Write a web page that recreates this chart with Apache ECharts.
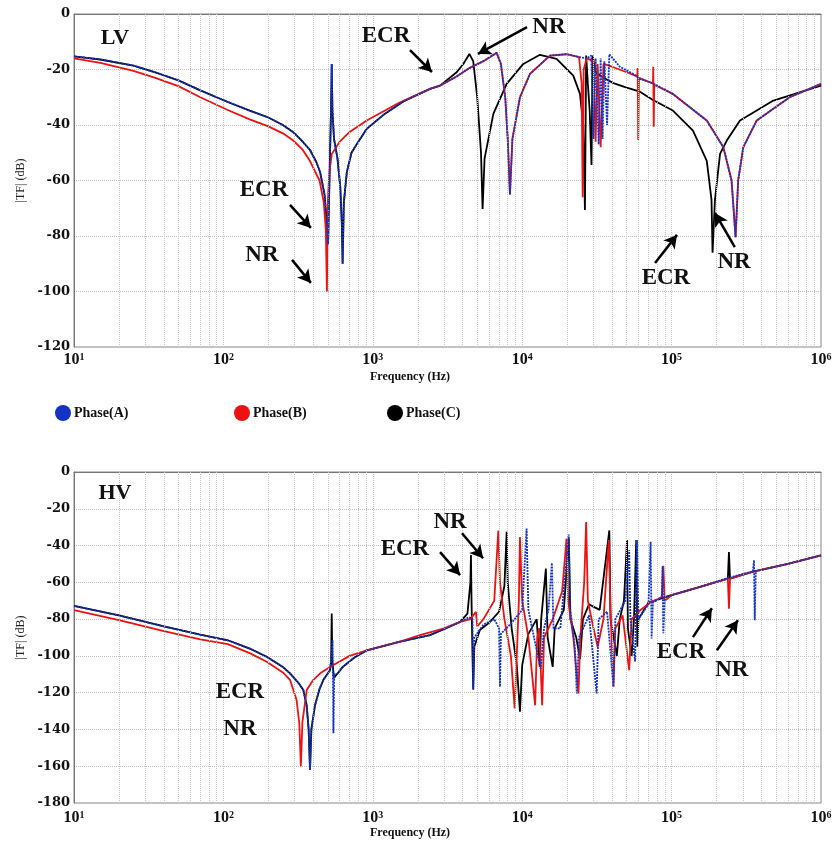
<!DOCTYPE html>
<html><head><meta charset="utf-8">
<script src="https://cdn.jsdelivr.net/npm/echarts@6/dist/echarts.min.js"></script>
<style>html,body{margin:0;padding:0;background:#fff}#c{width:837px;height:843px}</style>
</head><body><div id="c"></div>
<script>
// ---------------- DATA ----------------
const xTicks = [10, 100, 1000, 10000, 100000, 1000000];
const yTicksLV = [0, -20, -40, -60, -80, -100, -120];
const yTicksHV = [0, -20, -40, -60, -80, -100, -120, -140, -160, -180];
const minorFreqs = [20,30,40,50,60,70,80,90,200,300,400,500,600,700,800,900,2000,3000,4000,5000,6000,7000,8000,9000,20000,30000,40000,50000,60000,70000,80000,90000,200000,300000,400000,500000,600000,700000,800000,900000];
const seriesNames = ['Phase(A)', 'Phase(B)', 'Phase(C)'];

// LV winding, Phase C (black)
const LV_C = [[10,-15.3],[15,-16.4],[25,-18.6],[35,-21],[50,-23.9],[70,-27.5],[107,-31.7],[150,-34.8],[200,-37.3],[250,-40],[292,-42.5],[330,-45.3],[380,-49],[420,-53.5],[444,-57],[475,-65],[492,-75],[502,-83],[515,-55],[525,-35],[531,-18],[537,-35],[550,-45],[580,-52],[605,-62],[620,-75],[628,-90],[640,-68],[670,-57],[720,-50],[800,-46],[910,-41.4],[1200,-36],[1600,-31.5],[2415,-27],[2820,-25.8],[3640,-21],[4035,-18],[4430,-14.4],[4700,-17],[5000,-30],[5300,-50],[5430,-70.3],[5600,-52],[6410,-36],[7870,-25.2],[10170,-18],[13140,-14.7],[16990,-16.2],[21970,-22.2],[24360,-28.8],[25600,-40],[26300,-70.6],[26800,-15],[27500,-25],[28300,-35],[29100,-54.4],[29600,-15],[31000,-21],[35000,-23],[40800,-24.9],[50000,-26.5],[61400,-28],[75000,-31],[102000,-34.8],[139000,-42],[172000,-52.9],[185000,-67],[188000,-86],[195000,-67],[211000,-50.4],[234000,-45.6],[287000,-38.4],[480000,-31.2],[1000000,-25.8]];
// LV winding, Phase A (blue)
const LV_A = [[10,-15.3],[15,-16.4],[25,-18.6],[35,-21],[50,-23.9],[70,-27.5],[107,-31.7],[150,-34.8],[200,-37.3],[250,-40],[292,-42.5],[330,-45.3],[380,-49],[420,-53.5],[444,-57],[475,-65],[492,-75],[502,-83],[515,-55],[525,-35],[531,-18],[537,-35],[550,-45],[580,-52],[605,-62],[620,-75],[628,-90],[640,-68],[670,-57],[720,-50],[800,-46],[910,-41.4],[1200,-36],[1600,-31.5],[2415,-27],[2820,-25.8],[3640,-22.5],[4430,-19.5],[5500,-17],[6300,-15],[6745,-14],[7200,-18],[7700,-30],[8000,-45],[8280,-65],[8600,-45],[9660,-30],[11270,-21.6],[15340,-15],[19800,-14.5],[24000,-15.5],[27000,-16],[29000,-15],[30000,-45],[31000,-16],[32500,-47],[33500,-16],[34500,-45],[35500,-17],[37000,-40],[38300,-14.5],[45000,-19],[55000,-21.5],[61400,-23.4],[75000,-25],[102000,-28.8],[172000,-38.4],[222000,-48],[252000,-60],[268000,-80.4],[279000,-60],[302000,-48],[371000,-38.4],[617000,-30],[1000000,-25.2]];
// LV winding, Phase B (red)
const LV_B = [[10,-16],[15,-17.6],[25,-20.5],[35,-23],[50,-26],[70,-30],[107,-34.6],[150,-38],[200,-40.5],[250,-43],[292,-45.5],[340,-49],[380,-53],[440,-60],[470,-68],[485,-78],[493,-100],[500,-68],[510,-58],[531,-50.5],[600,-46],[700,-42.5],[910,-38.4],[1500,-32],[2415,-27],[2820,-25.8],[3640,-22.5],[4430,-19.5],[5500,-17],[6300,-15],[6745,-14],[7200,-18],[7700,-30],[8000,-45],[8280,-65],[8600,-45],[9660,-30],[11270,-21.6],[15340,-15],[19800,-14.5],[24000,-15.5],[25000,-25],[25400,-66],[25800,-20],[27000,-16],[30000,-17],[31000,-46],[32000,-18],[33500,-48],[35000,-18],[40000,-19],[50000,-21],[58800,-22.5],[59300,-19.5],[59800,-45.4],[60500,-23],[75000,-25],[75400,-19],[75900,-40.6],[76500,-25.5],[102000,-28.8],[172000,-38.4],[222000,-48],[252000,-60],[268000,-80.4],[279000,-60],[302000,-48],[371000,-38.4],[617000,-30],[1000000,-25.2]];

// HV winding, Phase C (black)
const HV_C = [[10,-72.8],[20,-78],[40,-84],[70,-88.5],[107,-91.5],[150,-96],[195,-100.5],[250,-106],[279,-109.5],[320,-115],[343,-118.6],[361,-127],[372,-140],[380,-162],[388,-140],[410,-127],[440,-118],[467,-113],[517,-107.8],[526,-103],[531,-77],[536,-103],[550,-112],[575,-110],[630,-106],[750,-101],[910,-97],[1500,-92.4],[2415,-88.7],[3300,-84],[3840,-81.5],[4300,-77],[4500,-60],[4540,-45.2],[4580,-70],[4650,-100],[4700,-118],[4780,-95],[5200,-86],[6000,-82],[7000,-76],[7600,-62],[7870,-32.5],[8000,-60],[8500,-85],[9200,-105],[9660,-130.4],[10000,-105],[11000,-88],[12500,-80],[13100,-106],[13400,-80],[14400,-52.5],[14800,-90],[16000,-106],[16500,-85],[19000,-75],[20500,-36],[21000,-80],[23000,-90],[24400,-101.6],[25500,-80],[28000,-72],[33000,-75],[38300,-31.8],[39000,-80],[43000,-100],[45000,-80],[48000,-70],[50300,-37],[51000,-85],[54000,-100],[56000,-80],[58000,-37],[59000,-95],[60000,-80],[70000,-71],[100000,-67],[155000,-62.5],[238000,-58],[242000,-43.5],[246000,-58],[356000,-54],[600000,-50],[1000000,-45.3]];
// HV winding, Phase B (red)
const HV_B = [[10,-75.1],[20,-80.5],[40,-86.5],[70,-91],[107,-93.6],[150,-98.5],[195,-103.2],[250,-109],[279,-113],[309,-124],[322,-136.5],[330,-160],[338,-136],[361,-118.6],[400,-113],[444,-109.5],[545,-105],[700,-100],[910,-97],[1500,-92.4],[2070,-88.7],[3000,-85],[3840,-81.5],[4500,-80],[4900,-76],[5000,-84],[5500,-80],[6500,-70],[6920,-31.8],[7100,-60],[7600,-80],[8400,-100],[8900,-128.6],[9200,-100],[9500,-70],[9660,-35.3],[10000,-70],[11000,-90],[12200,-126.8],[12600,-90],[13000,-85],[13600,-126.8],[14000,-90],[16000,-80],[18500,-65],[19800,-36.2],[20300,-70],[22000,-90],[23800,-120.4],[24500,-90],[26000,-60],[26800,-27.2],[27500,-70],[30000,-85],[32000,-95],[35000,-80],[38000,-37],[39000,-75],[40800,-116.8],[42000,-85],[47000,-78],[52000,-107.8],[54000,-80],[62000,-75],[72000,-71],[86000,-68],[88000,-51],[90000,-70],[100000,-67],[155000,-62.5],[238000,-58],[242000,-74.3],[246000,-58],[356000,-54],[600000,-50],[1000000,-45.3]];
// HV winding, Phase A (blue)
const HV_A = [[10,-72.8],[20,-78],[40,-84],[70,-88.5],[107,-91.5],[150,-96],[195,-100.5],[250,-106],[279,-109.5],[320,-115],[343,-118.6],[361,-127],[372,-140],[380,-162],[388,-140],[410,-127],[440,-118],[467,-113],[517,-107.8],[530,-100],[538,-91.5],[545,-142],[552,-110],[575,-110],[630,-106],[750,-101],[910,-97],[1500,-92.4],[2415,-88.7],[3840,-81.5],[4400,-79],[4650,-80],[4700,-118.6],[4780,-90],[5500,-83],[6500,-80],[7000,-85],[7100,-116.8],[7200,-88],[8500,-82],[10000,-75],[10700,-30.8],[11000,-75],[12000,-90],[13300,-107],[14000,-85],[15000,-75],[15800,-49.5],[16200,-85],[18000,-85],[20500,-34],[21000,-75],[22500,-95],[23200,-120.4],[24000,-90],[28000,-78],[31500,-120.4],[32500,-80],[37000,-76],[40800,-116.8],[42000,-80],[49000,-70],[52000,-42.4],[53000,-80],[57000,-103],[58600,-37],[60000,-80],[70000,-72],[72400,-38],[73500,-90.5],[75000,-71],[86000,-68],[87000,-51.3],[88000,-87.7],[90000,-68],[100000,-67],[155000,-62.5],[242000,-57.5],[350000,-54],[356000,-48],[360000,-80.6],[366000,-54],[600000,-50],[1000000,-45.3]];

// Annotation texts [freq, dB, text]
const LV_labels = [[18.8,-8.6,'LV'],[1225,-7.9,'ECR'],[15100,-4.7,'NR'],[187,-63.4,'ECR'],[181,-86.8,'NR'],[91600,-95.1,'ECR'],[262000,-89.4,'NR']];
const HV_labels = [[18.8,-11.6,'HV'],[129,-119.7,'ECR'],[129,-139.8,'NR'],[1641,-42,'ECR'],[3290,-27.3,'NR'],[115600,-98,'ECR'],[253000,-107.8,'NR']];
// Annotation arrows [[f1,dB1],[f2,dB2]] (tail -> head)
const LV_arrows = [[[1774,-13],[2489,-20.9]],[[10770,-4.7],[5060,-14.4]],[[279,-68.8],[385,-77.1]],[[288,-88.6],[385,-96.9]],[[77500,-89.7],[108600,-79.6]],[[265000,-84],[195000,-71.7]]];
const HV_arrows = [[[2820,-43.6],[3840,-56.1]],[[3955,-33.3],[5470,-46.9]],[[139000,-89.8],[186000,-74.1]],[[201000,-96.9],[278000,-80.6]]];

// ---------------- CHART ----------------
const COLORS = {A:'#1233c4', B:'#ee1111', C:'#000000'};
const SERIF = 'Liberation Serif';
const chart = echarts.init(document.getElementById('c'));

function xAxisCfg(gi) {
  return {
    type:'log', logBase:10, min:10, max:1000000, gridIndex:gi,
    axisLine:{show:true, lineStyle:{color:'#777', width:1}},
    axisTick:{show:false},
    axisLabel:{
      margin: gi===0 ? 5 : 7,
      formatter: v => '{b|10}{s|' + Math.round(Math.log10(v)) + '}',
      rich:{
        b:{fontFamily:SERIF, fontWeight:'bold', fontSize:16, color:'#111', lineHeight:16},
        s:{fontFamily:SERIF, fontWeight:'bold', fontSize:10, color:'#111', verticalAlign:'top', lineHeight:10}
      }
    },
    splitLine:{show:true, lineStyle:{color:'#c2c2c2', type:'dotted', width:1}},
    name:'Frequency (Hz)', nameLocation:'middle', nameGap: 24,
    nameTextStyle:{fontFamily:SERIF, fontWeight:'bold', fontSize:12, color:'#111', padding:[0,75,0,0]}
  };
}
function yAxisCfg(gi, min) {
  return {
    type:'value', min:min, max:0, interval:20, gridIndex:gi,
    axisLine:{show:true, lineStyle:{color:'#777', width:1}},
    axisTick:{show:false},
    axisLabel:{margin:4, fontFamily:'DejaVu Serif', fontWeight:'bold', fontSize:13, color:'#111'},
    splitLine:{show:true, lineStyle:{color:'#c2c2c2', type:'dotted', width:1}},
    name:'|TF| (dB)', nameLocation:'middle', nameRotate:90, nameGap:46,
    nameTextStyle:{fontFamily:SERIF, fontSize:12, color:'#222'}
  };
}
function lineSeries(name, data, gi, color, dotted, z) {
  return {
    type:'line', name:name, data:data, xAxisIndex:gi, yAxisIndex:gi,
    showSymbol:false, symbol:'none', smooth:false, animation:false, z:z,
    lineStyle:{color:color, width:1.8, type: dotted ? [2,1] : 'solid'},
    itemStyle:{color:color}
  };
}
function helperSeries(gi, labels, arrows) {
  return {
    type:'line', name:'annot'+gi, data:[], xAxisIndex:gi, yAxisIndex:gi, silent:true, animation:false, z:10,
    markLine:{
      silent:true, animation:false, symbol:['none','arrow'], symbolSize:[11,13],
      lineStyle:{color:'#000', width:2.5, type:'solid'}, label:{show:false},
      data: arrows.map(a => [{coord:a[0]}, {coord:a[1]}])
    },
    markPoint:{
      silent:true, animation:false,
      data: labels.map(l => ({coord:[l[0], l[1]], symbol:'rect', symbolSize:1, itemStyle:{color:'rgba(0,0,0,0)'},
        label:{show:true, position:'inside', formatter:l[2], fontFamily:SERIF, fontWeight:'bold',
          fontSize: (l[2]==='LV'||l[2]==='HV') ? 22 : 23, color:'#111'}}))
    }
  };
}
function gridHelper(gi) {
  return {
    type:'line', name:'grid'+gi, data:[], xAxisIndex:gi, yAxisIndex:gi, silent:true, animation:false, z:1,
    markLine:{
      silent:true, animation:false, symbol:['none','none'], label:{show:false},
      lineStyle:{color:'#c8c8c8', width:1, type:'dotted'},
      data: minorFreqs.map(f => ({xAxis:f}))
    }
  };
}
const ellipse = 'path://M50,0A50,50,0,1,1,50,100A50,50,0,1,1,50,0Z';
function legendCfg(name, left) {
  return {data:[{name:name, icon:ellipse}], left:left, top:400, itemWidth:16, itemHeight:20, itemGap:2,
    selectedMode:false, textStyle:{fontFamily:SERIF, fontWeight:'bold', fontSize:14, color:'#111', padding:[0,0,0,-2]}};
}

chart.setOption({
  animation:false,
  backgroundColor:'#fff',
  grid:[
    {left:74, top:14, width:747, height:333, show:true, borderColor:'#888', borderWidth:1, containLabel:false},
    {left:74, top:472, width:747, height:331, show:true, borderColor:'#888', borderWidth:1, containLabel:false}
  ],
  legend:[legendCfg('Phase(A)', 50), legendCfg('Phase(B)', 229), legendCfg('Phase(C)', 382)],
  xAxis:[xAxisCfg(0), xAxisCfg(1)],
  yAxis:[yAxisCfg(0,-120), yAxisCfg(1,-180)],
  series:[
    gridHelper(0), gridHelper(1),
    lineSeries(seriesNames[2], LV_C, 0, COLORS.C, false, 3),
    lineSeries(seriesNames[1], LV_B, 0, COLORS.B, false, 4),
    lineSeries(seriesNames[0], LV_A, 0, COLORS.A, true, 5),
    lineSeries(seriesNames[2], HV_C, 1, COLORS.C, false, 3),
    lineSeries(seriesNames[1], HV_B, 1, COLORS.B, false, 4),
    lineSeries(seriesNames[0], HV_A, 1, COLORS.A, true, 5),
    helperSeries(0, LV_labels, LV_arrows),
    helperSeries(1, HV_labels, HV_arrows)
  ]
});
</script></body></html>
